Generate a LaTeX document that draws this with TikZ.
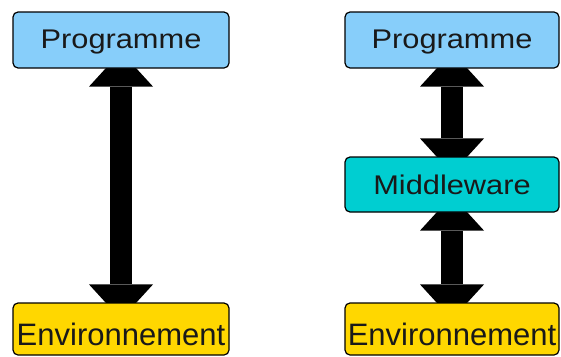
\documentclass[tikz,border=0pt]{standalone}
\usepackage{fontspec}
\setmainfont{Liberation Sans}
\newfontfamily\widesans[FakeStretch=1.14]{Liberation Sans}
\usetikzlibrary{arrows.meta,backgrounds}
\definecolor{progblue}{RGB}{135,206,250}
\definecolor{midcyan}{RGB}{0,206,209}
\definecolor{envgold}{RGB}{255,215,0}
\begin{document}
\begin{tikzpicture}[x=1pt,y=-1pt,
  layerbox/.style={draw=black, line width=1.2pt, rounded corners=5pt,
    inner sep=0pt, text=black!90},
  progbox/.style={layerbox, fill=progblue, minimum height=56pt,
    font=\widesans\fontsize{27}{30}\selectfont, text height=19pt, text depth=3pt},
  midbox/.style={layerbox, fill=midcyan, minimum height=55pt,
    font=\widesans\fontsize{27}{30}\selectfont, text height=19pt, text depth=0pt},
  envbox/.style={layerbox, fill=envgold, minimum height=52pt,
    font=\fontsize{31}{34}\selectfont, text height=32pt, text depth=0pt},
  bigarrow/.style={line width=22pt,
    {Triangle[width=64pt,length=35pt,line width=0pt]}-{Triangle[width=64pt,length=35pt,line width=0pt]},
    shorten <=-17pt, shorten >=-17pt}
]
\useasboundingbox (0,0) rectangle (561,356);

% direct access: program talks to the environment
\node[progbox, minimum width=216pt] (p1) at (121,40) {Programme};
\node[envbox, minimum width=216pt] (e1) at (121,329) {Environnement};

% access through a middleware layer
\node[progbox, minimum width=214pt] (p2) at (452,40) {Programme};
\node[midbox, minimum width=214pt] (m) at (452,184.5) {Middleware};
\node[envbox, minimum width=214pt] (e2) at (452,329) {Environnement};

\begin{pgfonlayer}{background}
  \draw[bigarrow] (p1) -- (e1);
  \draw[bigarrow] (p2) -- (m);
  \draw[bigarrow] (m) -- (e2);
\end{pgfonlayer}
\end{tikzpicture}
\end{document}
